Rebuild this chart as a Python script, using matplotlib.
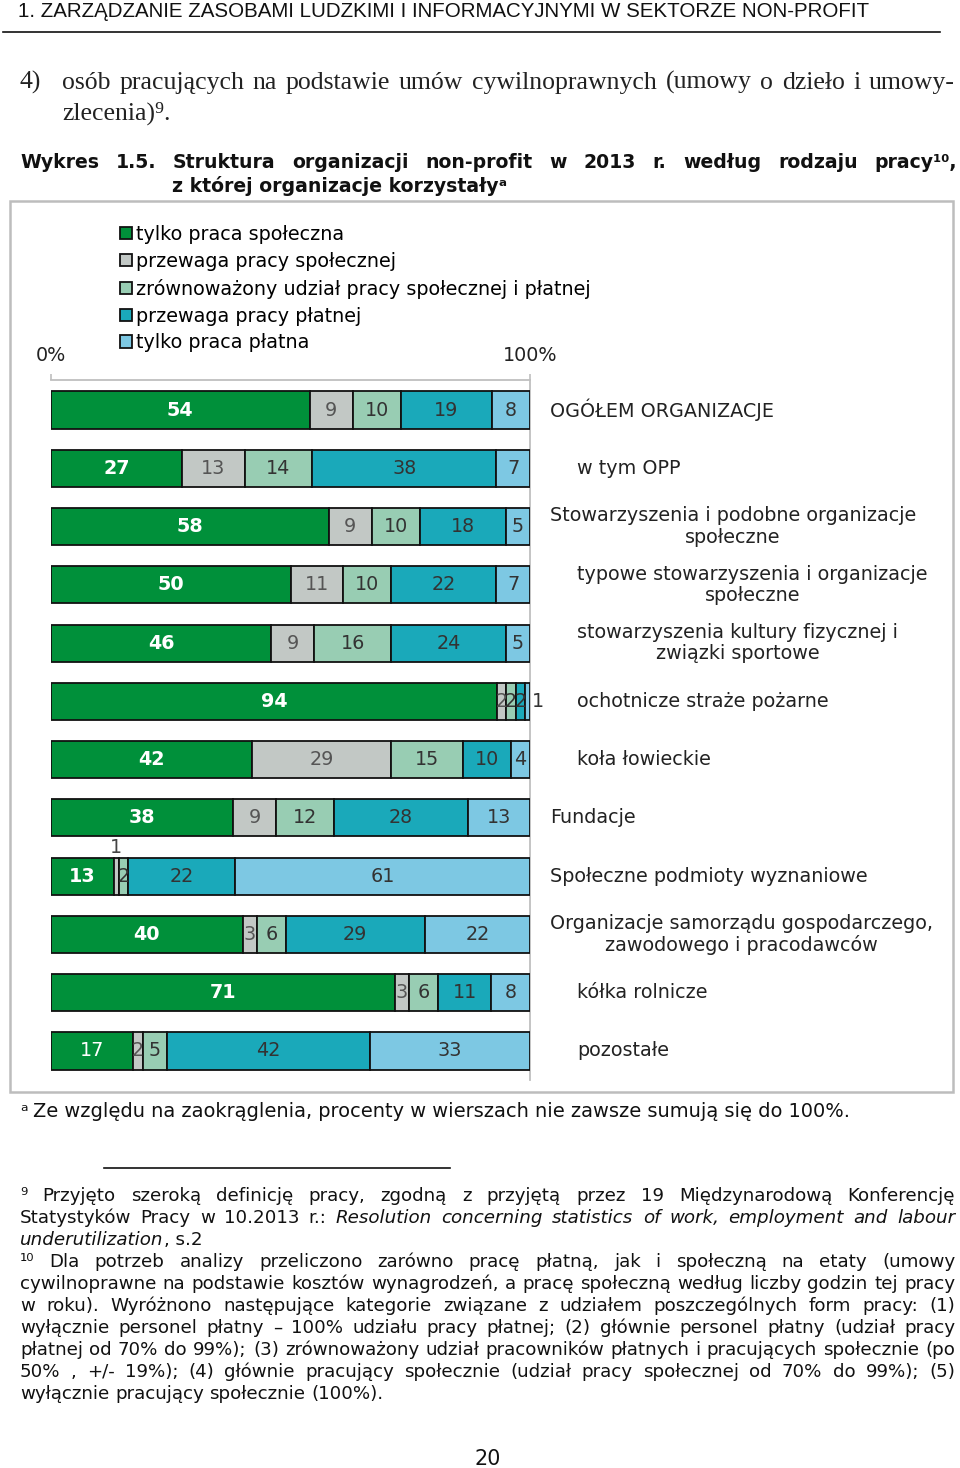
import matplotlib
matplotlib.use("Agg")
import matplotlib.pyplot as plt
from matplotlib import font_manager
import numpy as np

# ---------------- data ----------------
categories = [
    "OGÓŁEM ORGANIZACJE",
    "w tym OPP",
    "Stowarzyszenia i podobne organizacje\nspołeczne",
    "typowe stowarzyszenia i organizacje\nspołeczne",
    "stowarzyszenia kultury fizycznej i\nzwiązki sportowe",
    "ochotnicze straże pożarne",
    "koła łowieckie",
    "Fundacje",
    "Społeczne podmioty wyznaniowe",
    "Organizacje samorządu gospodarczego,\nzawodowego i pracodawców",
    "kółka rolnicze",
    "pozostałe",
]
is_subcategory = [False, True, False, True, True, True, True, False, False, False, True, True]

series_names = [
    "tylko praca społeczna",
    "przewaga pracy społecznej",
    "zrównoważony udział pracy społecznej i płatnej",
    "przewaga pracy płatnej",
    "tylko praca płatna",
]
tylko_spoleczna     = [54, 27, 58, 50, 46, 94, 42, 38, 13, 40, 71, 17]
przewaga_spolecznej = [9, 13, 9, 11, 9, 2, 29, 9, 1, 3, 3, 2]
zrownowazony        = [10, 14, 10, 10, 16, 2, 15, 12, 2, 6, 6, 5]
przewaga_platnej    = [19, 38, 18, 22, 24, 2, 10, 28, 22, 29, 11, 42]
tylko_platna        = [8, 7, 5, 7, 5, 1, 4, 13, 61, 22, 8, 33]
series_values = [tylko_spoleczna, przewaga_spolecznej, zrownowazony,
                 przewaga_platnej, tylko_platna]
axis_labels = ["0%", "100%"]

colors = ["#00903A", "#C2C8C5", "#98CDB3", "#1AA9BA", "#7DC8E3"]

# ---------------- fonts ----------------
available = {f.name for f in font_manager.fontManager.ttflist}
narrow = "Liberation Sans Narrow" if "Liberation Sans Narrow" in available else "Liberation Sans"
SANS = ["DejaVu Sans"]
SERIF = ["Liberation Serif", "DejaVu Serif"]

W, H = 960, 1468
fig = plt.figure(figsize=(W / 100, H / 100), dpi=100)
page = fig.add_axes([0, 0, 1, 1])
page.set_xlim(0, W)
page.set_ylim(H, 0)
page.axis("off")
R = fig.canvas.get_renderer()


def wid(t):
    return t.get_window_extent(renderer=R).width


def fit_size(s, target, **kw):
    t = page.text(0, 0, s, fontsize=10, **kw)
    w = wid(t)
    t.remove()
    return 10 * target / w


def space_w(size, **kw):
    a = page.text(0, 0, "a a", fontsize=size, **kw)
    b = page.text(0, 0, "aa", fontsize=size, **kw)
    g = wid(a) - wid(b)
    a.remove(); b.remove()
    return g


def natural_width(tokens, size, **kw):
    tot = 0
    for word, extra in tokens:
        k = dict(kw); k.update(extra)
        t = page.text(0, 0, word, fontsize=size, **k)
        tot += wid(t)
        t.remove()
    return tot + (len(tokens) - 1) * space_w(size, **kw)


def put_line(tokens, x0, x1, y, size, justify=True, **kw):
    ts, ws = [], []
    for word, extra in tokens:
        k = dict(kw)
        k.update(extra)
        t = page.text(0, y, word, fontsize=size, va="baseline", ha="left", **k)
        ts.append(t)
        ws.append(wid(t))
    if justify and len(ts) > 1:
        gap = (x1 - x0 - sum(ws)) / (len(ts) - 1)
    else:
        gap = space_w(size, **kw)
    x = x0
    for t, w in zip(ts, ws):
        t.set_x(x)
        x += w + gap


def words(s, **extra):
    return [(w, extra) for w in s.split()]


# ---------------- page header ----------------
hdr = "1. ZARZĄDZANIE ZASOBAMI LUDZKIMI I INFORMACYJNYMI W SEKTORZE NON-PROFIT"
hs = fit_size(hdr, 852, family=[narrow, "DejaVu Sans"])
page.text(18, 17, hdr, fontsize=hs, family=[narrow, "DejaVu Sans"], va="baseline", color="#111")
page.plot([3, 940], [32, 32], color="#111", lw=1.2)

# serif paragraph
para1 = "osób pracujących na podstawie umów cywilnoprawnych (umowy o dzieło i umowy-"
sf = fit_size(para1, 870, family=SERIF)
page.text(20, 89, "4)", fontsize=sf, family=SERIF, va="baseline", color="#222")
put_line(words(para1), 62, 955, 89, sf, family=SERIF, color="#222")
page.text(62, 120, "zlecenia)⁹.", fontsize=sf, family=SERIF, va="baseline", color="#222")

# title
ts_ = fit_size("z której organizacje korzystały", 327, family=SANS, weight="bold")
put_line(words("Wykres 1.5. Struktura organizacji non-profit w 2013 r. według rodzaju pracy¹⁰,"),
         20, 957, 168, ts_, family=SANS, weight="bold", color="#111")
page.text(172, 192, "z której organizacje korzystałyᵃ", fontsize=ts_, family=SANS,
          weight="bold", va="baseline", color="#111")

# chart frame
page.add_patch(plt.Rectangle((10, 201), 943, 891, fill=False, ec="#BDBDBD", lw=1.8))

# ---------------- chart ----------------
cs = fit_size("tylko praca społeczna", 209, family=SANS)
x0p, x1p, ytop, ybot = 51, 530, 380, 1080
first_c, last_c = 410, 1051
pitch = (last_c - first_c) / (len(categories) - 1)
ax = fig.add_axes([x0p / W, (H - ybot) / H, (x1p - x0p) / W, (ybot - ytop) / H])
ax.set_xlim(0, 100)
ax.set_ylim((ybot - first_c) / pitch, (ytop - first_c) / pitch)
ax.patch.set_alpha(0)

vals = np.array(series_values, dtype=float)
totals = vals.sum(axis=0)
norm = vals / totals * 100
ypos = np.arange(len(categories))
left = np.zeros(len(categories))
handles = []
plain_green_rows = {11}
for k, name in enumerate(series_names):
    bars = ax.barh(ypos, norm[k], left=left, height=0.635, color=colors[k],
                   edgecolor="#111111", linewidth=1.3, label=name, zorder=3)
    handles.append(bars)
    for i in range(len(categories)):
        v = series_values[k][i]
        cx = left[i] + norm[k][i] / 2
        if k == 0:
            ax.text(cx, i, str(v), ha="center", va="center", fontsize=cs, color="white",
                    family=SANS, weight="normal" if i in plain_green_rows else "bold", zorder=5)
        elif v < 1.5 and k == len(series_names) - 1:
            ax.text(100.4, i, str(v), ha="left", va="center", fontsize=cs, color="#333",
                    family=SANS, clip_on=False, zorder=5)
        elif v < 1.5:
            ax.text(cx, i - 0.5, str(v), ha="center", va="center", fontsize=cs, color="#444",
                    family=SANS, zorder=5)
        else:
            ax.text(cx, i, str(v), ha="center", va="center", fontsize=cs,
                    color="#555" if k == 1 else "#333", family=SANS, zorder=5)
    left += norm[k]

for i, cat in enumerate(categories):
    xp = 577 if is_subcategory[i] else 550
    xd = (xp - x0p) / (x1p - x0p) * 100
    ax.text(xd, i, cat, ha="left", va="center", multialignment="center", fontsize=cs,
            color="#222", family=SANS, clip_on=False, linespacing=1.15)

for sp in ["left", "bottom"]:
    ax.spines[sp].set_visible(False)
for sp in ["top", "right"]:
    ax.spines[sp].set_color("#BFBFBF")
    ax.spines[sp].set_linewidth(1.3)
ax.xaxis.tick_top()
ax.set_xticks([0, 100], axis_labels)
ax.tick_params(axis="x", top=True, bottom=False, length=4, color="#BFBFBF", width=1.2,
               pad=7, labelsize=cs, labelcolor="#222")
for lab in ax.get_xticklabels():
    lab.set_family(SANS)
ax.set_yticks([])

fig.legend(handles, series_names, loc="upper left",
           bbox_to_anchor=(120 / W, 1 - 225 / H), frameon=False,
           prop={"family": SANS, "size": cs},
           handlelength=0.62, handleheight=0.62, handletextpad=0.2,
           labelspacing=0.41, borderpad=0, borderaxespad=0)

# ---------------- footnotes ----------------
note_a = "Ze względu na zaokrąglenia, procenty w wierszach nie zawsze sumują się do 100%."
fs = fit_size(note_a, 815, family=SANS)
page.text(20, 1117, "ᵃ", fontsize=fs, family=SANS, va="baseline", color="#111")
page.text(33, 1117, note_a, fontsize=fs, family=SANS, va="baseline", color="#111")
page.plot([104, 450], [1168, 1168], color="#111", lw=1.2)

fx0, fx1 = 20, 955
b0 = 1201
lh = 22
foot = [
    (words("⁹ Przyjęto szeroką definicję pracy, zgodną z przyjętą przez 19 Międzynarodową Konferencję"), True),
    (words("Statystyków Pracy w 10.2013 r.:") +
     words("Resolution concerning statistics of work, employment and labour", style="italic"), True),
    None,
    (words("¹⁰ Dla potrzeb analizy przeliczono zarówno pracę płatną, jak i społeczną na etaty (umowy"), True),
    (words("cywilnoprawne na podstawie kosztów wynagrodzeń, a pracę społeczną według liczby godzin tej pracy"), True),
    (words("w roku). Wyróżnono następujące kategorie związane z udziałem poszczególnych form pracy: (1)"), True),
    (words("wyłącznie personel płatny – 100% udziału pracy płatnej; (2) głównie personel płatny (udział pracy"), True),
    (words("płatnej od 70% do 99%); (3) zrównoważony udział pracowników płatnych i pracujących społecznie (po"), True),
    (words("50% , +/- 19%); (4) głównie pracujący społecznie (udział pracy społecznej od 70% do 99%); (5)"), True),
    (words("wyłącznie pracujący społecznie (100%)."), False),
]
ffs = fs
for item in foot:
    if item is None or not item[1]:
        continue
    nw = natural_width(item[0], ffs, family=SANS)
    if nw > (fx1 - fx0):
        ffs *= (fx1 - fx0) / nw * 0.995
for j, item in enumerate(foot):
    yb = b0 + j * lh
    if item is None:
        t = page.text(fx0, yb, "underutilization", fontsize=ffs, family=SANS, style="italic",
                      va="baseline", color="#111")
        page.text(fx0 + wid(t), yb, ", s.2", fontsize=ffs, family=SANS, va="baseline", color="#111")
        continue
    toks, just = item
    put_line(toks, fx0, fx1, yb, ffs, justify=just, family=SANS, color="#111")

page.text(488, 1465, "20", fontsize=fs + 1, family=SANS, ha="center", va="baseline", color="#111")

fig.savefig("out.png", dpi=100)
